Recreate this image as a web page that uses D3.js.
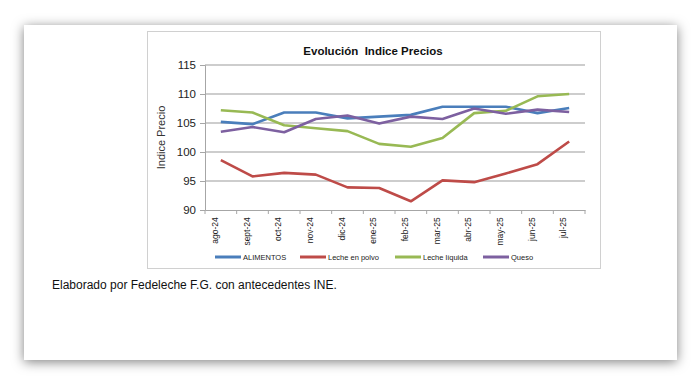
<!DOCTYPE html>
<html>
<head>
<meta charset="utf-8">
<script src="https://cdn.jsdelivr.net/npm/d3@7.9.0/dist/d3.min.js"></script>
<style>
  body { margin: 0; background: #fff; }
  svg { display: block; font-family: "Liberation Sans", Arial, sans-serif; }
</style>
</head>
<body>
<svg id="chart" width="700" height="389"></svg>
<script>
const months = ["ago-24", "sept-24", "oct-24", "nov-24", "dic-24", "ene-25", "feb-25", "mar-25", "abr-25", "may-25", "jun-25", "jul-25"];
const alimentos = [105.2, 104.8, 106.8, 106.8, 105.8, 106.1, 106.4, 107.8, 107.8, 107.8, 106.7, 107.6];
const lechePolvo = [98.6, 95.8, 96.4, 96.1, 93.9, 93.8, 91.5, 95.1, 94.8, 96.3, 97.9, 101.8];
const lecheLiquida = [107.2, 106.8, 104.6, 104.1, 103.6, 101.4, 100.9, 102.4, 106.7, 107.1, 109.6, 110.0];
const queso = [103.5, 104.3, 103.4, 105.7, 106.3, 104.9, 106.1, 105.7, 107.5, 106.6, 107.3, 106.9];
const yTicks = [90, 95, 100, 105, 110, 115];

const series = [
  { name: "ALIMENTOS", values: alimentos, color: "#4a7ebb" },
  { name: "Leche en polvo", values: lechePolvo, color: "#be4b48" },
  { name: "Leche líquida", values: lecheLiquida, color: "#98b954" },
  { name: "Queso", values: queso, color: "#7d60a0" }
];

const svg = d3.select("#chart");

// sombra de la tarjeta
const defs = svg.append("defs");
const f = defs.append("filter").attr("id", "shadow")
  .attr("x", "-10%").attr("y", "-15%").attr("width", "120%").attr("height", "135%");
f.append("feDropShadow").attr("dx", 0).attr("dy", 2).attr("stdDeviation", 6)
  .attr("flood-color", "#000").attr("flood-opacity", 0.5);

svg.append("rect")
  .attr("x", 24).attr("y", 25).attr("width", 653).attr("height", 335)
  .attr("fill", "#fff").attr("filter", "url(#shadow)");

// marco del gráfico
svg.append("rect")
  .attr("x", 147.5).attr("y", 31.5).attr("width", 453).attr("height", 237)
  .attr("fill", "#fff").attr("stroke", "#d0d0d0");

const plot = { left: 205, right: 585, top: 65, bottom: 210 };

const x = d3.scaleBand().domain(months).range([plot.left, plot.right]);
const y = d3.scaleLinear().domain([90, 115]).range([plot.bottom, plot.top]);

// grid
svg.append("g")
  .selectAll("line")
  .data(yTicks.slice(1))
  .join("line")
  .attr("x1", plot.left).attr("x2", plot.right)
  .attr("y1", d => y(d)).attr("y2", d => y(d))
  .attr("stroke", "#bdbdbd").attr("stroke-width", 1.3);

// eje y
const yAxis = svg.append("g")
  .attr("transform", `translate(${plot.left},0)`)
  .call(d3.axisLeft(y).tickValues(yTicks).tickSize(5).tickPadding(4));
yAxis.select(".domain").attr("stroke", "#a6a6a6");
yAxis.selectAll(".tick line").attr("stroke", "#a6a6a6");
yAxis.selectAll("text").attr("font-size", 11.5).attr("fill", "#222")
  .attr("font-family", "'Liberation Sans Narrow', 'Liberation Sans', Arial, sans-serif");

// eje x
const xAxis = svg.append("g")
  .attr("transform", `translate(0,${plot.bottom})`)
  .call(d3.axisBottom(x).tickSize(0).tickPadding(5));
xAxis.select(".domain").attr("stroke", "#a6a6a6");
xAxis.selectAll("text")
  .attr("font-size", 8.5).attr("fill", "#222")
  .attr("transform", "rotate(-90)")
  .attr("text-anchor", "end")
  .attr("dx", "-0.5em").attr("dy", "-0.35em")
  .attr("y", 0).attr("x", -3);

// marcas entre categorias
svg.append("g")
  .selectAll("line")
  .data(months.concat(["end"]))
  .join("line")
  .attr("x1", (d, i) => plot.left + i * x.bandwidth())
  .attr("x2", (d, i) => plot.left + i * x.bandwidth())
  .attr("y1", plot.bottom).attr("y2", plot.bottom + 4)
  .attr("stroke", "#a6a6a6");

// titulo eje y
svg.append("text")
  .attr("transform", `translate(165,${(plot.top + plot.bottom) / 2}) rotate(-90)`)
  .attr("text-anchor", "middle")
  .attr("font-size", 11).attr("fill", "#333")
  .text("Indice Precio");

// titulo
svg.append("text")
  .attr("x", 373).attr("y", 55)
  .attr("text-anchor", "middle")
  .attr("font-size", 11.5).attr("font-weight", "bold").attr("fill", "#111")
  .style("white-space", "pre")
  .text("Evolución  Indice Precios");

// lineas
const line = d3.line()
  .x((d, i) => x(months[i]) + x.bandwidth() / 2)
  .y(d => y(d));

svg.append("g")
  .selectAll("path")
  .data(series)
  .join("path")
  .attr("d", d => line(d.values))
  .attr("fill", "none")
  .attr("stroke", d => d.color)
  .attr("stroke-width", 2.6)
  .attr("stroke-linejoin", "round");

// leyenda
const legendX = [215, 300, 395, 483];
const legend = svg.append("g").attr("transform", "translate(0,257)");
series.forEach((s, i) => {
  legend.append("line")
    .attr("x1", legendX[i]).attr("x2", legendX[i] + 26)
    .attr("stroke", s.color).attr("stroke-width", 3);
  legend.append("text")
    .attr("x", legendX[i] + 28).attr("y", 3)
    .attr("font-size", 7.5).attr("fill", "#222")
    .text(s.name);
});

// fuente
svg.append("text")
  .attr("x", 52).attr("y", 289)
  .attr("font-size", 12).attr("fill", "#111")
  .text("Elaborado por Fedeleche F.G. con antecedentes INE.");
</script>
</body>
</html>
